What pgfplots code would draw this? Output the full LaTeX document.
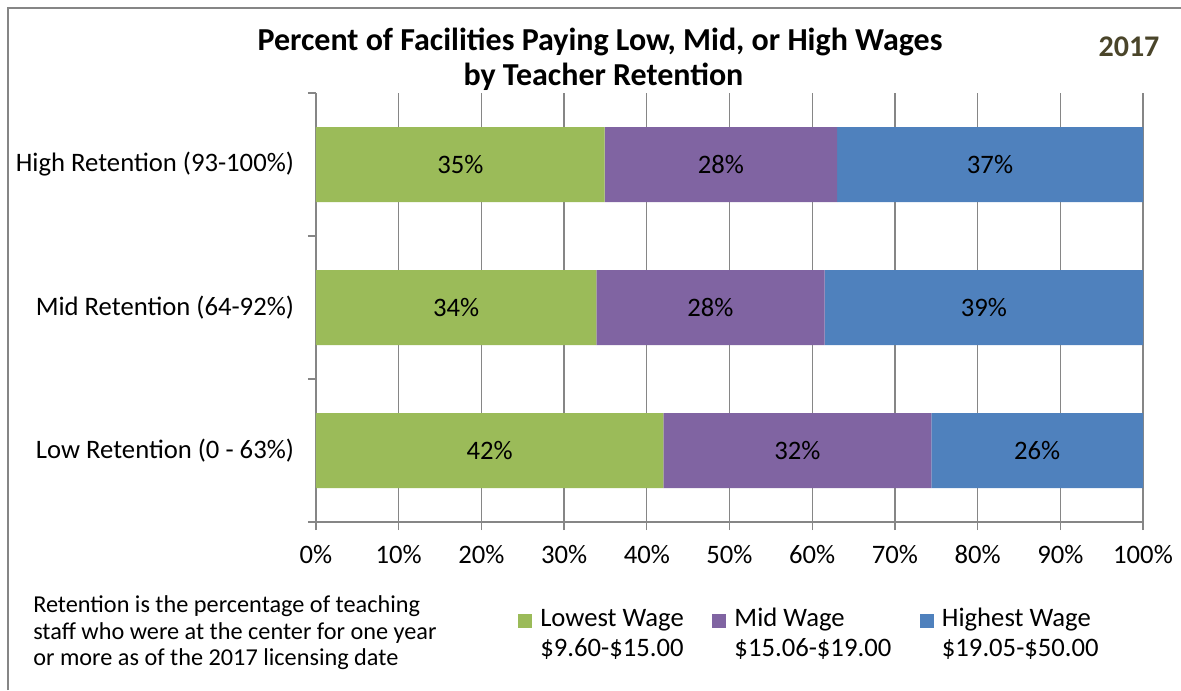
\documentclass[border=0pt]{standalone}
\usepackage{pgfplots}
\pgfplotsset{compat=1.18}
\usepackage{fontspec}
\setmainfont{Carlito}
\definecolor{cgreen}{HTML}{9BBB59}
\definecolor{cpurple}{HTML}{8064A2}
\definecolor{cblue}{HTML}{4F81BD}
\definecolor{cgrid}{HTML}{868686}
\definecolor{cyear}{HTML}{4A452A}
\newcommand{\bodyfont}{\fontsize{20}{24}\selectfont}
\newcommand{\notefont}{\fontsize{18.2}{22}\selectfont}
\newcommand{\titlefont}{\fontsize{24}{28}\selectfont\bfseries}
\begin{document}
\begin{tikzpicture}
\useasboundingbox (0,0) rectangle (885.75pt,517.5pt);
\draw[cgrid, line width=1.1pt] (6pt,0) -- (6pt,511.5pt) -- (885.75pt,511.5pt);
\begin{axis}[
  at={(237pt,126pt)}, anchor=south west,
  width=620.25pt, height=321.75pt, scale only axis,
  xbar stacked, bar width=56.25pt,
  xmin=0, xmax=100, ymin=0.5, ymax=3.5,
  axis x line*=bottom, axis y line*=left,
  axis line style={cgrid, line width=1pt},
  xtick={0,10,...,100},
  xticklabels={0\%,10\%,20\%,30\%,40\%,50\%,60\%,70\%,80\%,90\%,100\%},
  ytick={1,2,3},
  yticklabels={Low Retention (0 - 63\%), Mid Retention (64-92\%), High Retention (93-100\%)},
  minor ytick={0.5,1.5,2.5,3.5},
  every major y tick/.append style={draw=none},
  tick align=outside, major tick length=6pt, minor tick length=6pt,
  tick style={cgrid, line width=1pt},
  xmajorgrids, grid style={cgrid, line width=1pt},
  ticklabel style={font=\bodyfont, text=black},
  yticklabel style={xshift=-7pt},
  xticklabel style={yshift=-8pt, text height=13.5pt, text depth=0pt},
  point meta=explicit symbolic,
  nodes near coords,
  every node near coord/.append style={font=\bodyfont, text=black, anchor=center},
  legend columns=3,
  legend cell align=left,
  legend style={draw=none, fill=none, inner sep=0pt,
    at={(axis description cs:0.2443,-0.202)}, anchor=north west,
    font=\bodyfont,
    nodes={inner sep=0pt, text height=13.5pt, text depth=4pt},
    /tikz/every odd column/.append style={column sep=6pt},
    /tikz/every even column/.append style={column sep=21.5pt},
    row sep=5pt},
  legend image code/.code={\fill[#1] (0pt,-5.25pt) rectangle (10.5pt,5.25pt);},
]
\addplot[fill=cgreen, draw=none] coordinates {(42.0,1) [42\%] (33.9,2) [34\%] (34.9,3) [35\%]};
\addplot[fill=cpurple, draw=none] coordinates {(32.4,1) [32\%] (27.6,2) [28\%] (28.1,3) [28\%]};
\addplot[fill=cblue, draw=none] coordinates {(25.6,1) [26\%] (38.5,2) [39\%] (37.0,3) [37\%]};
\addlegendimage{empty legend}
\addlegendimage{empty legend}
\addlegendimage{empty legend}
\legend{Lowest Wage, Mid Wage, Highest Wage, \$9.60-\$15.00, \$15.06-\$19.00, \$19.05-\$50.00}
\end{axis}
\node[anchor=base, font=\titlefont] at (450pt,479.25pt) {Percent of Facilities Paying Low, Mid, or High Wages};
\node[anchor=base, font=\titlefont] at (452.6pt,453pt) {by Teacher Retention};
\node[anchor=base, font=\fontsize{22.5}{26}\selectfont\bfseries, text=cyear] at (846.75pt,474.75pt) {2017};
\node[anchor=base west, font=\notefont, inner sep=0pt] at (24.75pt,58.5pt) {Retention is the percentage of teaching};
\node[anchor=base west, font=\notefont, inner sep=0pt] at (24.75pt,38.25pt) {staff who were at the center for one year};
\node[anchor=base west, font=\notefont, inner sep=0pt] at (24.75pt,18.75pt) {or more as of the 2017 licensing date};
\end{tikzpicture}
\end{document}
